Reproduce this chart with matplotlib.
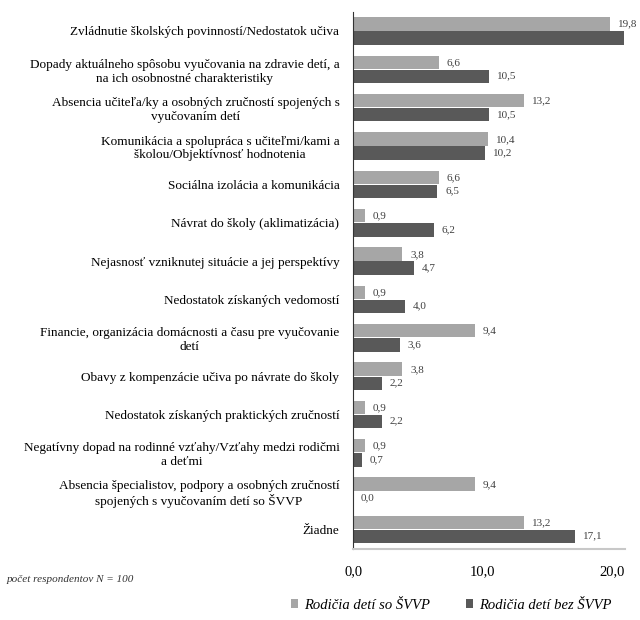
import numpy as np
import matplotlib
matplotlib.use("Agg")
import matplotlib.pyplot as plt

plt.rcParams['font.family'] = ['Liberation Serif', 'DejaVu Serif']

# categories (top to bottom)
categories = [
    "Zvládnutie školských povinností/Nedostatok učiva",
    "Dopady aktuálneho spôsobu vyučovania na zdravie detí, a\nna ich osobnostné charakteristiky",
    "Absencia učiteľa/ky a osobných zručností spojených s\nvyučovaním detí",
    "Komunikácia a spolupráca s učiteľmi/kami a\nškolou/Objektívnosť hodnotenia",
    "Sociálna izolácia a komunikácia",
    "Návrat do školy (aklimatizácia)",
    "Nejasnosť vzniknutej situácie a jej perspektívy",
    "Nedostatok získaných vedomostí",
    "Financie, organizácia domácnosti a času pre vyučovanie\ndetí",
    "Obavy z kompenzácie učiva po návrate do školy",
    "Nedostatok získaných praktických zručností",
    "Negatívny dopad na rodinné vzťahy/Vzťahy medzi rodičmi\na deťmi",
    "Absencia špecialistov, podpory a osobných zručností\nspojených s vyučovaním detí so ŠVVP",
    "Žiadne",
]
so_svvp = [19.8, 6.6, 13.2, 10.4, 6.6, 0.9, 3.8, 0.9, 9.4, 3.8, 0.9, 0.9, 9.4, 13.2]
bez_svvp = [20.9, 10.5, 10.5, 10.2, 6.5, 6.2, 4.7, 4.0, 3.6, 2.2, 2.2, 0.7, 0.0, 17.1]
x_ticks = [0, 10, 20]

light = "#a6a6a6"
dark = "#595959"

fig = plt.figure(figsize=(6.4, 6.2), dpi=100)
ax = fig.add_axes([0.552, 0.115, 0.425, 0.866])

y = np.arange(len(categories))
h = 0.35
ax.barh(y - h / 2 - 0.01, so_svvp, height=h, color=light, label="Rodičia detí so ŠVVP")
ax.barh(y + h / 2 + 0.01, bez_svvp, height=h, color=dark, label="Rodičia detí bez ŠVVP")

# value labels
for i, (a, b) in enumerate(zip(so_svvp, bez_svvp)):
    ax.text(a + 0.6, i - h / 2, f"{a:.1f}".replace(".", ","), va="center", ha="left",
            fontsize=8, color="#404040")
    if b < 20.5:
        ax.text(b + 0.6, i + h / 2, f"{b:.1f}".replace(".", ","), va="center", ha="left",
                fontsize=8, color="#404040")

ax.set_ylim(len(categories) - 0.5, -0.5)
ax.set_xlim(0, 21)
ax.set_xticks(x_ticks)
ax.set_xticklabels([f"{t:.1f}".replace(".", ",") for t in x_ticks], fontsize=10.5)
ax.set_yticks(y)
ax.set_yticklabels(categories, fontsize=9.5, multialignment="center", linespacing=1.2)
ax.tick_params(axis="both", length=0)
ax.tick_params(axis="y", pad=10)
ax.tick_params(axis="x", pad=12)

for s in ["top", "right"]:
    ax.spines[s].set_visible(False)
ax.spines["left"].set_color("#333333")
ax.spines["bottom"].set_color("#c8c8c8")
ax.spines["bottom"].set_linewidth(1.5)

fig.text(0.01, 0.062, "počet respondentov N = 100", fontsize=8, style="italic", color="#333333")

fig.legend(loc="center", bbox_to_anchor=(0.705, 0.024), ncol=2, frameon=False,
           prop={"size": 10.5, "style": "italic"}, handlelength=0.5, handleheight=0.5,
           columnspacing=2.5, handletextpad=0.4)

fig.savefig("out.png", dpi=100)
